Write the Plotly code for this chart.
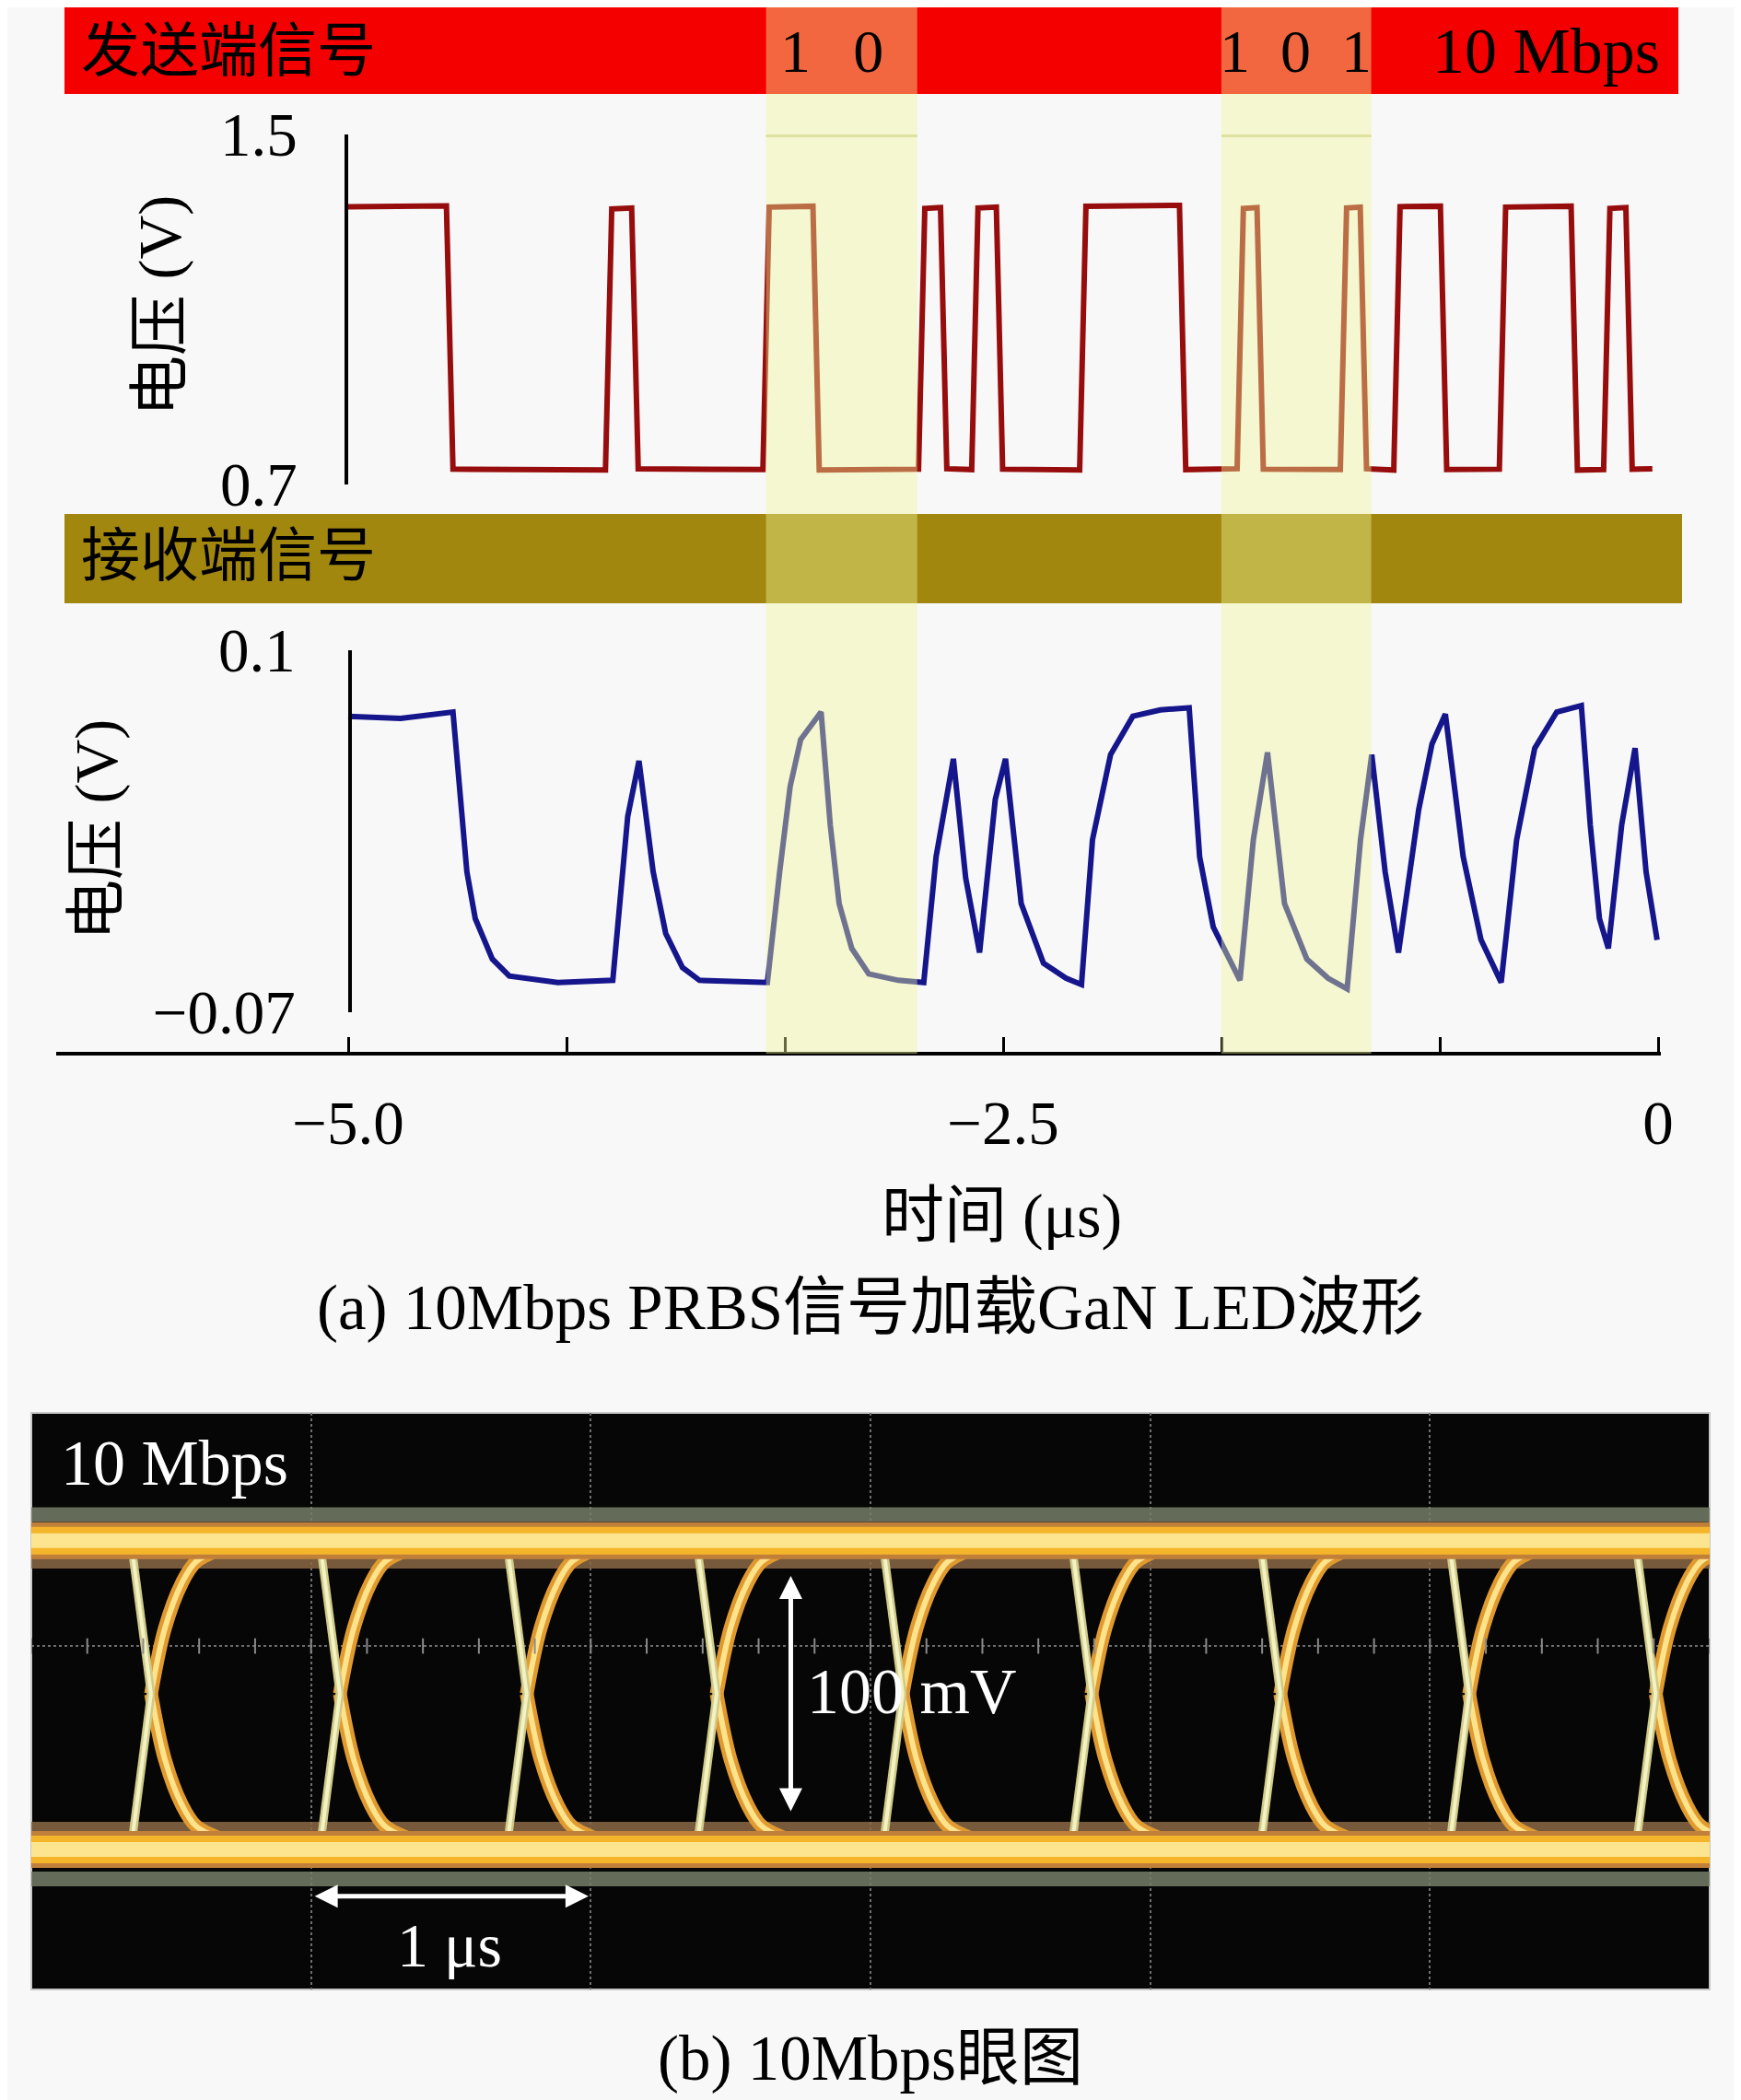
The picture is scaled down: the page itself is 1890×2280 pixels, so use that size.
import plotly.graph_objects as go

W, H = 1890, 2280
OFF = 8  # page margin of the browser body
FONT = "Liberation Serif, Noto Sans CJK SC, serif"

# sent signal (time in us, voltage in V), corners
sent_t = [-5.000, -4.625, -4.600,
          -4.018, -3.994, -3.918, -3.893,
          -3.417, -3.393, -3.226, -3.202,
          -2.823, -2.799, -2.739, -2.715,
          -2.620, -2.596, -2.526, -2.502,
          -2.208, -2.184, -1.827, -1.803,
          -1.607, -1.583, -1.531, -1.507,
          -1.213, -1.189, -1.137, -1.113,
          -1.009, -0.985, -0.831, -0.807,
          -0.606, -0.582, -0.332, -0.308,
          -0.208, -0.184, -0.123, -0.099,
          -0.022]
sent_v = [1.335, 1.337, 0.735,
          0.733, 1.330, 1.332, 0.736,
          0.734, 1.334, 1.336, 0.733,
          0.735, 1.331, 1.333, 0.736,
          0.734, 1.332, 1.334, 0.735,
          0.733, 1.336, 1.338, 0.734,
          0.736, 1.331, 1.333, 0.735,
          0.734, 1.332, 1.334, 0.736,
          0.733, 1.335, 1.336, 0.734,
          0.735, 1.334, 1.336, 0.733,
          0.734, 1.331, 1.333, 0.735,
          0.736]

# received signal (V)
recv_t = [-5.000, -4.800, -4.600, -4.579, -4.547, -4.515, -4.450, -4.385, -4.200,
          -3.990, -3.933, -3.890, -3.836, -3.788, -3.724, -3.659, -3.400,
          -3.353, -3.313, -3.273, -3.195, -3.160, -3.126, -3.078, -3.013, -2.900,
          -2.803, -2.756, -2.690, -2.643, -2.590, -2.530, -2.491, -2.431, -2.346,
          -2.260, -2.201, -2.159, -2.090, -2.005, -1.900, -1.790, -1.750, -1.698,
          -1.596, -1.545, -1.491, -1.426, -1.341, -1.260, -1.187, -1.136, -1.093,
          -1.042, -0.991, -0.914, -0.863, -0.812, -0.744, -0.676, -0.599, -0.540,
          -0.471, -0.387, -0.293, -0.259, -0.224, -0.190, -0.139, -0.088, -0.046,
          -0.004]
recv_v = [0.069, 0.068, 0.071, 0.039, -0.004, -0.026, -0.045, -0.053, -0.056,
          -0.055, 0.022, 0.048, -0.004, -0.033, -0.049, -0.055, -0.056,
          -0.004, 0.036, 0.058, 0.071, 0.018, -0.019, -0.040, -0.052, -0.055,
          -0.056, 0.003, 0.049, -0.007, -0.042, 0.030, 0.049, -0.019, -0.047,
          -0.054, -0.057, 0.011, 0.051, 0.069, 0.072, 0.073, 0.003, -0.030,
          -0.055, 0.011, 0.052, -0.019, -0.045, -0.054, -0.059, 0.011, 0.051,
          -0.004, -0.042, 0.025, 0.056, 0.070, 0.003, -0.036, -0.056, 0.011,
          0.054, 0.071, 0.074, 0.018, -0.026, -0.040, 0.018, 0.054, -0.004,
          -0.036]

# highlighted bit groups
band_start = [-3.405, -1.667]
band_end = [-2.828, -1.095]
band_labels = ["1\u2002\u20090", "1\u20020\u20021"]
band_label_t = [-3.154, -1.385]

time_ticks = [-5.0, -25 / 6, -10 / 3, -2.5, -5 / 3, -5 / 6, 0.0]
time_ticktext = ["\u22125.0", "", "", "\u22122.5", "", "", "0"]
top_ticks = [0.7, 1.5]
top_ticktext = ["0.7", "1.5"]
bot_ticks = [-0.07, 0.1]
bot_ticktext = ["\u22120.07", "0.1"]

# eye diagram: x in us, y in mV
eye_cross_x = [0.428, 1.103, 1.771, 2.450, 3.115, 3.790, 4.465, 5.140, 5.807]
eye_top = 131
eye_bottom = 0
eye_cross_y = 66
edge_dx = [-0.072, 0.0]
curve_dx = [0.0, 0.05, 0.11, 0.16, 0.24, 0.34, 0.45]
curve_up = [66, 94, 113, 122, 127, 130, 131]
curve_down = [66, 38, 19, 10, 5, 2, 0]
eye_center_y = 86.3
eye_minor_x = [i * 0.2 for i in range(31)]


def px(x):
    return (x - OFF) / W


def py(y):
    return 1 - (y - OFF) / H


fig = go.Figure()

fig.add_trace(go.Scatter(x=sent_t, y=sent_v, xaxis="x", yaxis="y", mode="lines",
                         line=dict(color="#970d0d", width=6), hoverinfo="skip"))
fig.add_trace(go.Scatter(x=recv_t, y=recv_v, xaxis="x", yaxis="y2", mode="lines",
                         line=dict(color="#15158c", width=6), hoverinfo="skip"))

# eye diagram pieces
rail_x = [0, 6, None, 0, 6]
fig.add_trace(go.Scatter(x=rail_x, y=[142, 142, None, -12.5, -12.5], xaxis="x3", yaxis="y3",
                         mode="lines", line=dict(color="rgba(118,126,104,0.85)", width=16)))
fig.add_trace(go.Scatter(x=rail_x, y=[121.5, 121.5, None, 9.4, 9.4], xaxis="x3", yaxis="y3",
                         mode="lines", line=dict(color="rgba(140,105,70,0.85)", width=12)))

cx, cy = [], []
ex, ey = [], []
for xc in eye_cross_x:
    cx += [xc + d for d in curve_dx] + [None] + [xc + d for d in curve_dx] + [None]
    cy += curve_up + [None] + curve_down + [None]
    ex += [xc + edge_dx[0], xc + edge_dx[1], None, xc + edge_dx[0], xc + edge_dx[1], None]
    ey += [eye_top, eye_cross_y, None, eye_bottom, eye_cross_y, None]

fig.add_trace(go.Scatter(x=cx, y=cy, xaxis="x3", yaxis="y3", mode="lines",
                         line=dict(color="#e09a30", width=15, shape="spline", smoothing=1)))
fig.add_trace(go.Scatter(x=cx, y=cy, xaxis="x3", yaxis="y3", mode="lines",
                         line=dict(color="#ffe38a", width=6, shape="spline", smoothing=1)))
fig.add_trace(go.Scatter(x=ex, y=ey, xaxis="x3", yaxis="y3", mode="lines",
                         line=dict(color="#cfc98a", width=9)))
fig.add_trace(go.Scatter(x=ex, y=ey, xaxis="x3", yaxis="y3", mode="lines",
                         line=dict(color="#f3f2c2", width=4)))

for w, c in [(40, "#c0803a"), (30, "#f5b52a"), (16, "#fde58f")]:
    fig.add_trace(go.Scatter(x=rail_x, y=[eye_top, eye_top, None, eye_bottom, eye_bottom],
                             xaxis="x3", yaxis="y3", mode="lines", line=dict(color=c, width=w)))

fig.add_trace(go.Scatter(x=eye_minor_x, y=[eye_center_y] * len(eye_minor_x), xaxis="x3", yaxis="y3",
                         mode="markers",
                         marker=dict(symbol="line-ns", size=12, line=dict(color="#8a8a8a", width=2))))

shapes = [
    dict(type="rect", xref="paper", yref="paper", x0=px(70), x1=px(1822), y0=py(102), y1=py(8),
         fillcolor="#f40000", line=dict(width=0), layer="below"),
    dict(type="rect", xref="paper", yref="paper", x0=px(70), x1=px(1826), y0=py(655), y1=py(558),
         fillcolor="#a2870f", line=dict(width=0), layer="below"),
    dict(type="rect", xref="x3 domain", yref="y3 domain", x0=0, x1=1, y0=0, y1=1,
         fillcolor="#060606", line=dict(color="#c8c8c8", width=2), layer="below"),
]
for s, e in zip(band_start, band_end):
    shapes.append(dict(type="line", xref="x", yref="y", x0=s, x1=e, y0=1.5, y1=1.5,
                       line=dict(color="#d2d2a6", width=6), layer="below"))
    shapes.append(dict(type="rect", xref="x", yref="paper", x0=s, x1=e, y0=py(1144), y1=py(8),
                       fillcolor="rgba(238,245,150,0.42)", line=dict(width=0), layer="above"))

ann = [
    dict(text="发送端信号", x=px(86), y=py(56), xanchor="left", font=dict(size=64)),
    dict(text="10 Mbps", x=px(1678), y=py(56), font=dict(size=70)),
    dict(text="接收端信号", x=px(86), y=py(604), xanchor="left", font=dict(size=64)),
    dict(text="电压 (V)", x=px(174), y=py(332), textangle=-90, font=dict(size=66)),
    dict(text="电压 (V)", x=px(105), y=py(901), textangle=-90, font=dict(size=66)),
    dict(text="时间 (μs)", x=px(1087), y=py(1320), font=dict(size=68)),
    dict(text="(a) 10Mbps PRBS信号加载GaN LED波形", x=px(945), y=py(1420), font=dict(size=69)),
    dict(text="(b) 10Mbps眼图", x=px(945), y=py(2235), font=dict(size=69)),
    dict(text="10 Mbps", x=px(64), y=py(1588), xanchor="left", font=dict(size=70, color="white")),
    dict(text="100 mV", x=px(990), y=py(1836), font=dict(size=70, color="white")),
    dict(text="1 μs", x=px(488), y=py(2112), font=dict(size=68, color="white")),
]
for t, lab in zip(band_label_t, band_labels):
    ann.append(dict(text=lab, x=t, xref="x", y=py(56), yref="paper", font=dict(size=66)))
for a in ann:
    a.setdefault("xref", "paper")
    a.setdefault("yref", "paper")
    a.setdefault("xanchor", "center")
    a["yanchor"] = "middle"
    a["showarrow"] = False

# white double arrows on the eye diagram
ann.append(dict(text="", x=2.715, y=116, ax=2.715, ay=15.6, xref="x3", yref="y3", axref="x3", ayref="y3",
                showarrow=True, arrowhead=2, arrowside="end+start", arrowwidth=5, arrowsize=1,
                arrowcolor="white"))
ann.append(dict(text="", x=1.992, y=-19.8, ax=1.008, ay=-19.8, xref="x3", yref="y3", axref="x3", ayref="y3",
                showarrow=True, arrowhead=2, arrowside="end+start", arrowwidth=5, arrowsize=1,
                arrowcolor="white"))

fig.update_layout(
    template="none",
    width=W, height=H, margin=dict(l=0, r=0, t=0, b=0, autoexpand=False),
    paper_bgcolor="#f8f8f8", plot_bgcolor="rgba(0,0,0,0)",
    showlegend=False, font=dict(family=FONT, size=60, color="black"),
    shapes=shapes, annotations=ann,
    xaxis=dict(domain=[px(61), px(1803)], range=[-6.1146, 0.0105], anchor="free", position=py(1144),
               showline=True, linecolor="black", linewidth=4, ticks="inside", ticklen=16, tickwidth=3,
               tickcolor="black", tickvals=time_ticks, ticktext=time_ticktext, ticklabelstandoff=16,
               tickfont=dict(size=67), showgrid=False, zeroline=False, automargin=False),
    yaxis=dict(domain=[py(526), py(146)], range=[0.7, 1.5], anchor="free", position=px(376),
               showline=True, linecolor="black", linewidth=3.5, ticks="inside", ticklen=14, tickwidth=3,
               tickcolor="black", tickvals=top_ticks, ticktext=top_ticktext, ticklabelstandoff=38,
               tickfont=dict(size=67), showgrid=False, zeroline=False, automargin=False),
    yaxis2=dict(domain=[py(1099), py(706)], range=[-0.07, 0.1], anchor="free", position=px(380),
                showline=True, linecolor="black", linewidth=3.5, ticks="inside", ticklen=14, tickwidth=3,
                tickcolor="black", tickvals=bot_ticks, ticktext=bot_ticktext, ticklabelstandoff=44,
                tickfont=dict(size=67), showgrid=False, zeroline=False, automargin=False),
    xaxis3=dict(domain=[px(34), px(1856)], range=[0, 6], anchor="y3", showticklabels=False, ticks="",
                tickvals=[1, 2, 3, 4, 5], showgrid=True, gridcolor="#6e6e6e", griddash="dot", gridwidth=2,
                zeroline=False, showline=False, automargin=False),
    yaxis3=dict(domain=[py(2160), py(1534)], range=[-59.4, 185.2], anchor="x3", showticklabels=False,
                ticks="", tickvals=[eye_center_y], showgrid=True, gridcolor="#6e6e6e", griddash="dot",
                gridwidth=2, zeroline=False, showline=False, automargin=False),
)

fig.write_html("out.html")
